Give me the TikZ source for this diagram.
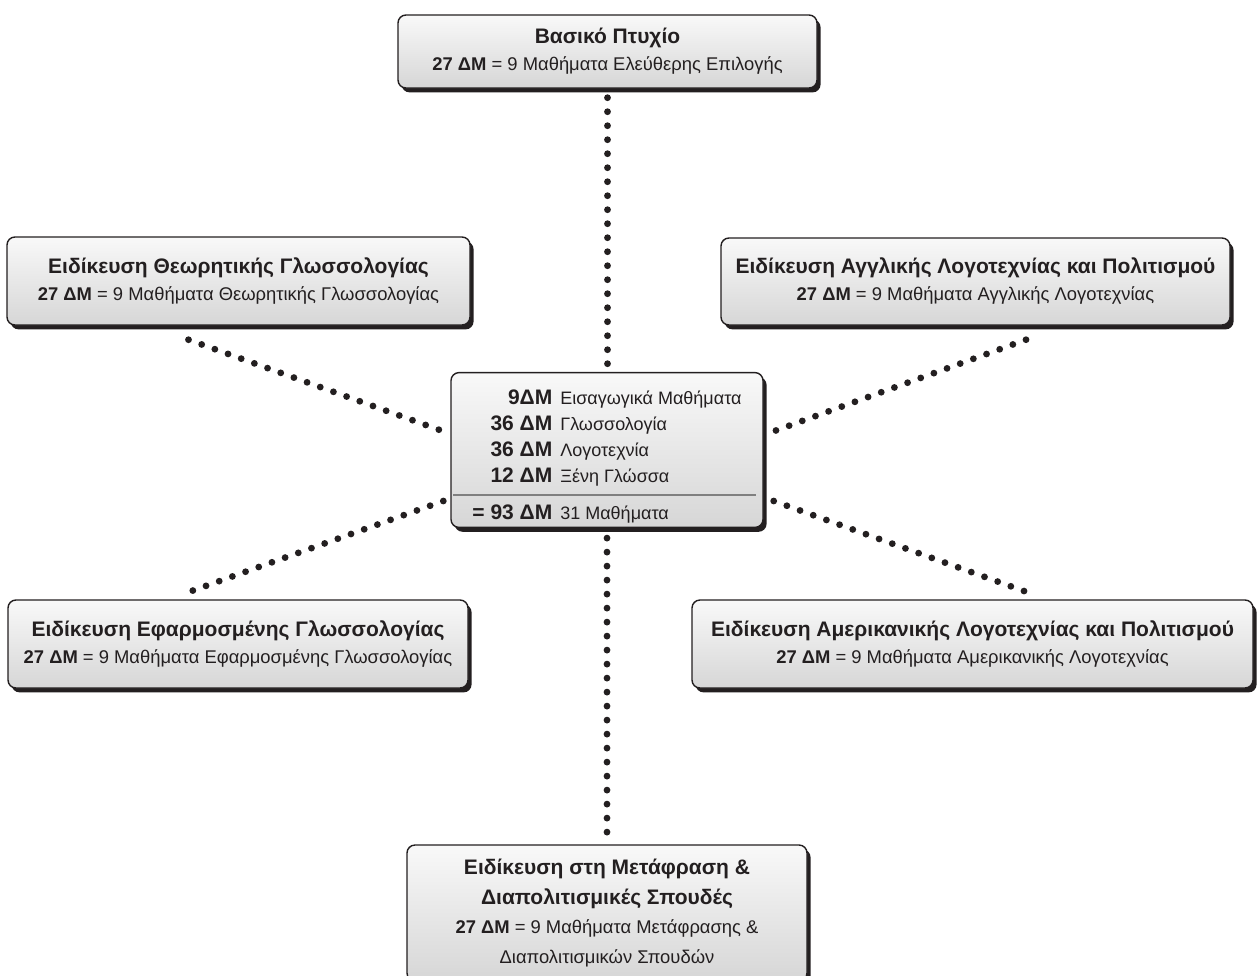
\documentclass[tikz,border=0pt]{standalone}
\usepackage{fontspec}
\setmainfont{Liberation Sans}
\usepackage{tikz}
\usetikzlibrary{shadows}

\definecolor{ink}{HTML}{231F20}
\newcommand{\boxtitle}[1]{{\bfseries\fontsize{10.5}{13.5}\selectfont #1}}
\newcommand{\credits}[1]{\textbf{#1~ΔΜ}}

\begin{document}
\begin{tikzpicture}[%
    x=0.5pt, y=-0.5pt,
    box/.style={draw=ink, line width=0.7pt, rounded corners=4pt,
      top color=gray!5, bottom color=gray!32, text=ink,
      drop shadow={shadow xshift=1.8pt, shadow yshift=-2.2pt, fill=ink, opacity=1},
      align=center, inner sep=0pt, font=\fontsize{9.2}{13.5}\selectfont},
    dots/.style={ink, line width=3.4pt, line cap=round, dash pattern=on 0pt off 7pt},
  ]
    \useasboundingbox (0,0) rectangle (1258,975);

    \node[box, minimum width=209.5pt, minimum height=36.5pt] (basic) at (607.5,51.5)
      {\boxtitle{Βασικό Πτυχίο}\\ \credits{27} = 9 Μαθήματα Ελεύθερης Επιλογής};
    \node[box, minimum width=231.5pt, minimum height=44pt] (theory) at (238.5,281)
      {\boxtitle{Ειδίκευση Θεωρητικής Γλωσσολογίας}\\ \credits{27} = 9 Μαθήματα Θεωρητικής Γλωσσολογίας};
    \node[box, minimum width=254.5pt, minimum height=43.5pt] (english) at (975.5,281.5)
      {\boxtitle{Ειδίκευση Αγγλικής Λογοτεχνίας και Πολιτισμού}\\ \credits{27} = 9 Μαθήματα Αγγλικής Λογοτεχνίας};
    \node[box, minimum width=230pt, minimum height=44pt] (applied) at (238,644)
      {\boxtitle{Ειδίκευση Εφαρμοσμένης Γλωσσολογίας}\\ \credits{27} = 9 Μαθήματα Εφαρμοσμένης Γλωσσολογίας};
    \node[box, minimum width=280.5pt, minimum height=44pt] (american) at (972.5,644)
      {\boxtitle{Ειδίκευση Αμερικανικής Λογοτεχνίας και Πολιτισμού}\\ \credits{27} = 9 Μαθήματα Αμερικανικής Λογοτεχνίας};
    \node[box, minimum width=200pt, minimum height=68pt, font=\fontsize{9.2}{14.8}\selectfont] (transl) at (607,913)
      {\boxtitle{Ειδίκευση στη Μετάφραση \&}\\ \boxtitle{Διαπολιτισμικές Σπουδές}\\
       \credits{27} = 9 Μαθήματα Μετάφρασης \&\\ Διαπολιτισμικών Σπουδών};

    \node[box, minimum width=156pt, minimum height=75pt] (core) at (607,450)
      {\fontsize{9}{13}\selectfont
       \begin{tabular}{@{}r@{\hspace{4pt}}l@{}}
         \rule{0pt}{16pt}\boxtitle{9ΔΜ} & Εισαγωγικά Μαθήματα\\
         \boxtitle{36 ΔΜ} & Γλωσσολογία\\
         \boxtitle{36 ΔΜ} & Λογοτεχνία\\
         \boxtitle{12 ΔΜ} & Ξένη Γλώσσα\\[5.5pt]
         \boxtitle{= 93 ΔΜ} & 31 Μαθήματα
       \end{tabular}};
    \draw[gray, line width=0.6pt] ([shift={(3,45)}]core.west) -- ([shift={(-8,45)}]core.east);

    \draw[dots] ([yshift=-4.5pt]basic.south) -- ([yshift=2.5pt]basic.south |- core.north);
    \draw[dots] ([yshift=-5pt]core.south) -- ([yshift=3.5pt]core.south |- transl.north);
    \draw[dots] ([shift={(-50,14)}]theory.south) -- ([shift={(-5,-18)}]core.west);
    \draw[dots] ([shift={(50.5,14)}]english.south) -- ([shift={(8,-18)}]core.east);
    \draw[dots] ([shift={(-7,51)}]core.west) -- ([shift={(-50,-7)}]applied.north);
    \draw[dots] ([shift={(10,51)}]core.east) -- ([shift={(55,-7)}]american.north);
\end{tikzpicture}
\end{document}
